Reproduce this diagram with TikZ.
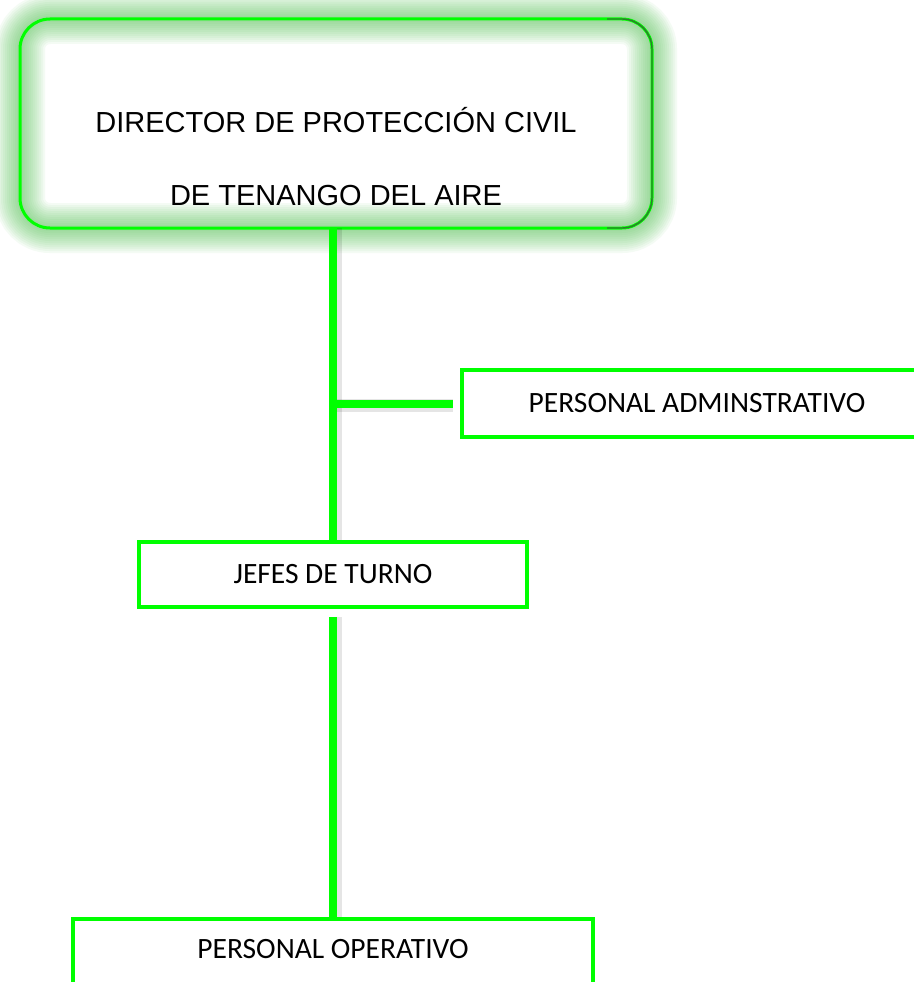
\documentclass[tikz,border=0pt]{standalone}
\usepackage{fontspec}
\setmainfont{Liberation Sans}
\newfontfamily\calibrifont{Carlito}
\definecolor{lgreen}{HTML}{00FF00}
\definecolor{dgreen}{HTML}{2E7A2E}
\definecolor{glowgreen}{HTML}{4CC04C}
\tikzset{
  obox/.style={draw=lgreen, line width=3.5pt, fill=white, inner sep=0pt,
    font=\calibrifont\fontsize{29.5}{34}\selectfont},
  conn/.style={lgreen, line width=8pt},
  connshadow/.style={black, opacity=0.10, line width=13pt},
  toptext/.style={anchor=base, inner sep=0pt, font=\fontsize{29}{34}\selectfont}
}
\begin{document}
\begin{tikzpicture}[x=1pt,y=-1pt]
\useasboundingbox (0,0) rectangle (913,982);
\fill[white] (0,0) rectangle (913,982);

% top box
\node[minimum width=632pt, minimum height=209pt, inner sep=0pt, outer sep=0pt] (dir) at (336,123.5) {};
\foreach \w in {50,46,42,38,34,30,26,22,18,14,10,6}
  \draw[glowgreen, line width=\w pt, opacity=0.06, rounded corners=30pt] (dir.south west) rectangle (dir.north east);
\draw[lgreen, line width=3pt, rounded corners=30pt] (dir.south west) rectangle (dir.north east);
\draw[dgreen, line width=1.4pt, rounded corners=30pt] ([xshift=-45pt]dir.north east) -- (dir.north east) -- (dir.south east) -- ([xshift=-45pt]dir.south east);
\node[toptext] (d1) at (336,132) {DIRECTOR DE PROTECCIÓN CIVIL};
\node[toptext] (d2) at (336,205) {DE TENANGO DEL AIRE};

% box positions
\node[obox, minimum width=388pt, minimum height=65pt] (jef) at (333,574.5) {};
\node[obox, minimum width=470pt, minimum height=67pt] (adm) at (697,403.5) {};
\node[obox, minimum width=520pt, minimum height=72pt] (op) at (333,955) {};

% connectors
\coordinate (j) at (jef.north |- adm.west);
\draw[connshadow, transform canvas={xshift=2pt}] (dir.south -| jef.north) -- (jef.north);
\draw[connshadow, transform canvas={yshift=-2pt}, shorten >=7pt] (j) -- (adm.west);
\draw[connshadow, transform canvas={xshift=2pt}, shorten <=8pt] (jef.south) -- (jef.south |- op.north);
\draw[conn] (dir.south -| jef.north) -- (jef.north);
\draw[conn, shorten >=7pt] (j) -- (adm.west);
\draw[conn, shorten <=8pt] (jef.south) -- (jef.south |- op.north);

% boxes with text drawn on top
\node[obox, minimum width=388pt, minimum height=65pt] (jefb) at (333,574.5) {JEFES DE TURNO};
\node[obox, minimum width=470pt, minimum height=67pt] (admb) at (697,403.5) {PERSONAL ADMINSTRATIVO};
\node[obox, minimum width=520pt, minimum height=72pt, text depth=12pt] (opb) at (333,955) {PERSONAL OPERATIVO};
\end{tikzpicture}
\end{document}
